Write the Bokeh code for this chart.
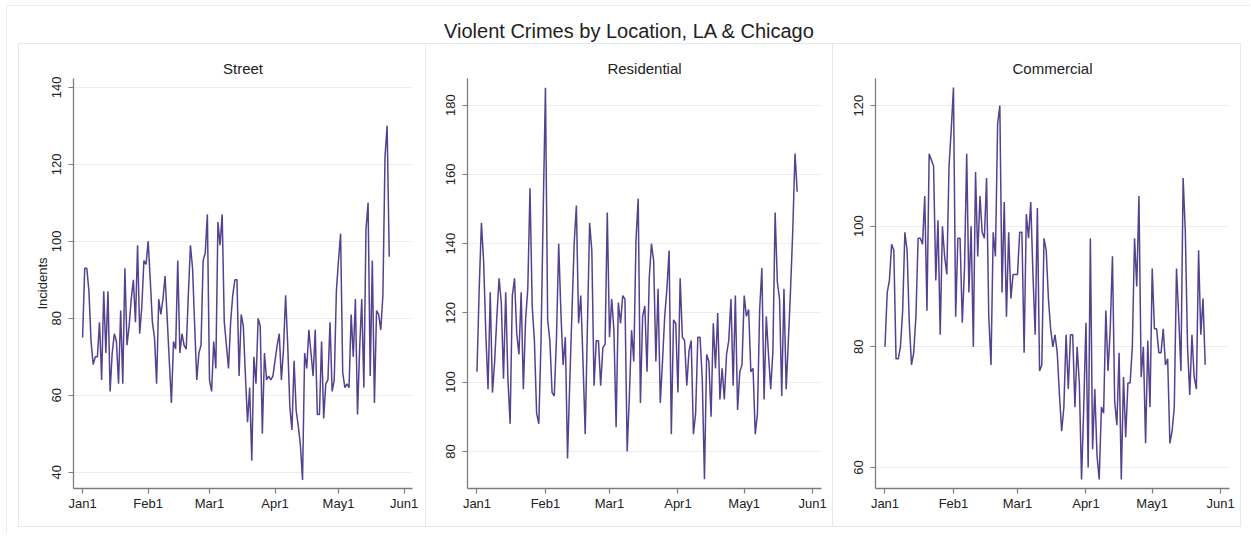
import pandas as pd
from bokeh.plotting import figure
from bokeh.layouts import row, column
from bokeh.models import FixedTicker, Range1d, Label
from bokeh.embed import file_html
from bokeh.resources import INLINE

# ---------------- data ----------------
start_date = "2020-01-01"
chart_title = "Violent Crimes by Location, LA & Chicago"
panel_titles = ["Street", "Residential", "Commercial"]
y_axis_label = "Incidents"
month_labels = ["Jan1", "Feb1", "Mar1", "Apr1", "May1", "Jun1"]

street = [75, 93, 93, 87, 74, 68, 70, 70, 79, 64, 87, 71, 87, 61, 71, 76, 74, 63, 82, 63,
          93, 73, 78, 85, 90, 79, 99, 76, 83, 95, 94, 100, 90, 79, 75, 63, 85, 81, 85, 91,
          80, 69, 58, 74, 72, 95, 71, 76, 73, 72, 86,
          99, 93, 78, 64, 71, 73, 95, 97, 107, 64, 61, 74, 67, 105, 99, 107, 79, 73, 67, 79,
          86, 90, 90, 65, 81, 78, 65, 53, 62, 43, 70, 63, 80, 78, 50, 71, 64, 65, 64, 65,
          69, 73, 76, 64, 72, 86, 73, 57, 51, 69, 56, 52, 47, 38, 71, 67, 77,
          71, 65, 77, 55, 55, 74, 54, 63, 64, 79, 61, 64, 87, 95, 102, 66, 62, 63, 62, 81,
          70, 85, 55, 72, 85, 62, 103, 110, 65, 95, 58, 82, 81, 77, 86, 122, 130, 96]

residential = [103, 127, 146, 135, 114, 98, 126, 97, 106, 119, 130, 123, 101, 126, 101, 88,
               125, 130, 114, 108, 126, 98, 118, 127, 156, 122, 112, 91, 88, 112, 150, 185,
               118, 112, 97, 96, 113, 140, 120, 105, 113, 78, 100, 120, 140, 151,
               117, 125, 106, 85, 116, 146, 138, 99, 112, 112, 99, 110, 111, 149, 113, 124,
               115, 87, 123, 117, 125, 124, 80, 96, 115, 106, 141, 153, 94, 119, 122, 103,
               130, 140, 135, 106, 127, 94, 106, 119, 127, 138, 85, 118, 117, 97, 130, 113,
               112, 99, 109, 112, 85, 91, 113,
               113, 101, 72, 108, 106, 90, 117, 104, 120, 95, 104, 95, 108, 112, 124, 99,
               125, 92, 103, 105, 125, 119, 121, 103, 104, 85, 91, 121, 133, 95, 119, 108,
               98, 109, 149, 129, 124, 96, 127, 98, 112, 127, 144, 166, 155]

commercial = [80, 89, 91, 97, 96, 78, 78, 80, 86, 99, 96, 84, 77, 79, 85, 98, 98, 97, 105, 86,
              112, 111, 110, 91, 101, 82, 100, 95, 92, 110, 116, 123, 85, 98, 98, 84, 93, 112,
              89, 100,
              80, 109, 95, 105, 99, 98, 108, 85, 77, 99, 95, 117, 120, 89, 104, 85, 99, 88,
              92, 92, 92, 99, 99, 79, 102, 98, 104, 92, 82, 103, 76, 77, 98, 96, 88, 83, 80,
              82, 79, 72, 66, 70, 82, 73, 82, 82, 70, 80, 74, 58, 70, 84, 60, 98,
              63, 73, 62, 58, 70, 69, 86, 76, 83, 95, 71, 67, 79, 58, 75, 65, 74, 74, 80, 98,
              90, 105, 75, 80, 64, 81, 70, 93, 83, 83, 79, 79, 83, 77, 78, 64, 66, 70, 93, 85,
              76, 108, 99, 80, 72, 82, 75, 73, 96, 82, 88, 77]

street_yticks = [40, 60, 80, 100, 120, 140]
residential_yticks = [80, 100, 120, 140, 160, 180]
commercial_yticks = [60, 80, 100, 120]

# ---------------- styling ----------------
FONT = "Liberation Sans"
LINE_COLOR = "#54418f"
AXIS_COLOR = "#7d7d7d"
GRID_COLOR = "#e8eff2"
TEXT_COLOR = "#222222"
BORDER = "1px solid #e3ebee"
OUTER_BORDER = "1px solid #e9eff1"

t0 = pd.Timestamp(start_date)
month_starts = pd.date_range(start_date, periods=len(month_labels), freq="MS")
tick_pos = [int((m - t0).days) for m in month_starts]


def make_panel(values, title, yticks, yrange, width, left, right, ylabel=None, styles=None):
    dates = pd.date_range(start_date, periods=len(values), freq="D")
    days = [int((d - t0).days) for d in dates]
    p = figure(width=width, height=484, x_range=Range1d(-4.3, 156), y_range=Range1d(*yrange),
               toolbar_location=None, output_backend="svg",
               min_border_left=left, min_border_right=right,
               min_border_top=34, min_border_bottom=40,
               outline_line_color=None, background_fill_color="white",
               border_fill_color="white")
    p.line(days, values, line_color=LINE_COLOR, line_width=1.5)

    p.title.text = title
    p.title.align = "center"
    p.title.text_font = FONT
    p.title.text_font_size = "15px"
    p.title.text_font_style = "normal"
    p.title.text_color = TEXT_COLOR
    p.title.standoff = 4

    p.xaxis.ticker = FixedTicker(ticks=tick_pos)
    p.xaxis.major_label_overrides = {t: l for t, l in zip(tick_pos, month_labels)}
    p.yaxis.ticker = FixedTicker(ticks=yticks)
    p.yaxis.major_label_orientation = "vertical"
    for ax in (p.xaxis, p.yaxis):
        ax.axis_line_color = AXIS_COLOR
        ax.axis_line_width = 1.3
        ax.major_tick_line_color = AXIS_COLOR
        ax.major_tick_line_width = 1.2
        ax.major_tick_out = 5
        ax.major_tick_in = 0
        ax.minor_tick_line_color = None
        ax.major_label_text_font = FONT
        ax.major_label_text_font_size = "13px"
        ax.major_label_text_color = TEXT_COLOR
    p.xaxis.major_label_standoff = 2
    p.yaxis.major_label_standoff = 7
    if ylabel:
        p.yaxis.axis_label = ylabel
        p.yaxis.axis_label_text_font = FONT
        p.yaxis.axis_label_text_font_size = "13px"
        p.yaxis.axis_label_text_font_style = "normal"
        p.yaxis.axis_label_text_color = TEXT_COLOR
        p.yaxis.axis_label_standoff = 0
    p.xgrid.visible = False
    p.ygrid.ticker = FixedTicker(ticks=yticks)
    p.ygrid.grid_line_color = GRID_COLOR
    p.ygrid.grid_line_width = 1
    if styles:
        p.styles = styles
    return p


p1 = make_panel(street, panel_titles[0], street_yticks, (35.8, 142.3), 407, 54, 14,
                ylabel=y_axis_label,
                styles={"border-left": BORDER, "border-top": BORDER, "border-bottom": BORDER})
p2 = make_panel(residential, panel_titles[1], residential_yticks, (69.3, 187.7), 407, 41, 12,
                styles={"border-left": BORDER, "border-top": BORDER, "border-bottom": BORDER})
p3 = make_panel(commercial, panel_titles[2], commercial_yticks, (56.5, 124.5), 409, 42, 13,
                styles={"border-left": BORDER, "border-top": BORDER, "border-bottom": BORDER,
                        "border-right": BORDER})

title_fig = figure(width=1233, height=37, x_range=Range1d(0, 1233), y_range=Range1d(0, 37),
                   toolbar_location=None, output_backend="svg", min_border=0,
                   x_axis_location=None, y_axis_location=None, outline_line_color=None)
title_fig.grid.visible = False
title_fig.add_layout(Label(x=622, y=13, text=chart_title, text_align="center",
                           text_baseline="middle", text_font=FONT, text_font_size="20px",
                           text_color=TEXT_COLOR))

panels = row(p1, p2, p3, margin=(0, 9, 7, 11))
layout = column(title_fig, panels, spacing=0, margin=(5, 0, 0, 6),
                styles={"border-left": OUTER_BORDER, "border-top": OUTER_BORDER})

open("out.html", "w").write(file_html(layout, INLINE))
